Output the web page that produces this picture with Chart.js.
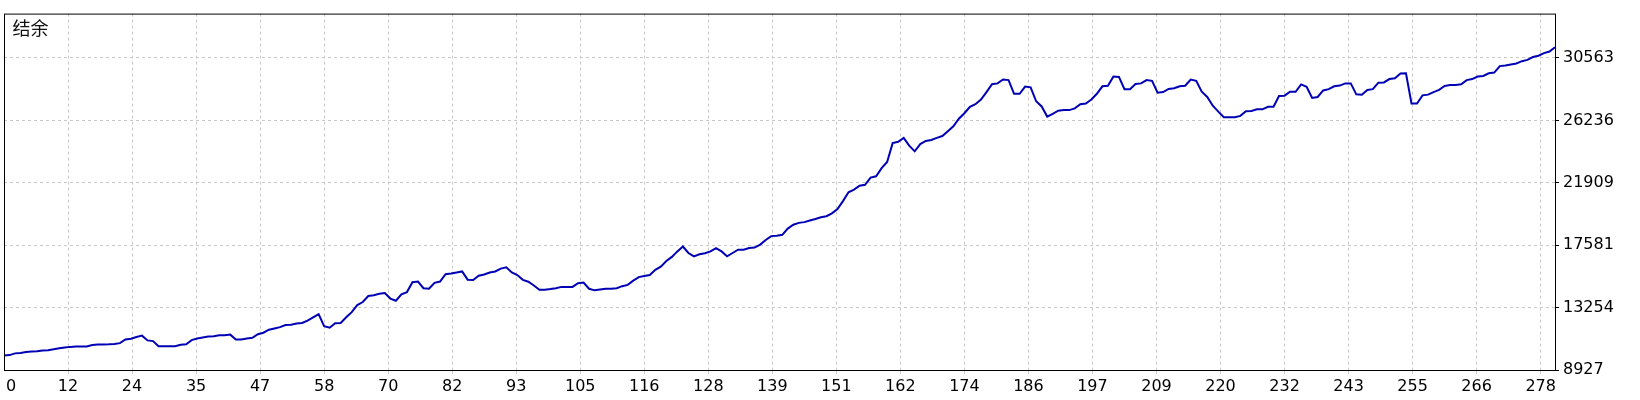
<!DOCTYPE html>
<html>
<head>
<meta charset="utf-8">
<script src="https://cdn.jsdelivr.net/npm/chart.js@4/dist/chart.umd.min.js"></script>
<style>
  html, body { margin: 0; padding: 0; background: #ffffff; }
  #wrap { width: 1640px; height: 400px; }
</style>
</head>
<body>
<div id="wrap"><canvas id="balanceChart" width="1640" height="400"></canvas></div>
<script>
// Title shown in the top-left corner of the plot
const chartTitle = '结余';

// Labels under the vertical grid lines
const xTickLabels = ['0', '12', '24', '35', '47', '58', '70', '82', '93', '105', '116', '128',
    '139', '151', '162', '174', '186', '197', '209', '220', '232', '243', '255', '266', '278'];

// Values shown on the right axis
const yTickValues = [8927, 13254, 17581, 21909, 26236, 30563];

// Balance after each deal
const balance = [
    9940, 9960, 10080, 10100, 10170, 10210, 10230, 10280, 10300, 10370,
    10430, 10480, 10530, 10550, 10550, 10560, 10660, 10700, 10700, 10710,
    10730, 10790, 11040, 11090, 11220, 11310, 10980, 10930, 10570, 10570,
    10570, 10570, 10680, 10710, 11000, 11110, 11180, 11250, 11270, 11340,
    11340, 11380, 11050, 11050, 11110, 11160, 11410, 11510, 11720, 11810,
    11900, 12040, 12060, 12150, 12190, 12350, 12580, 12800, 11970, 11860,
    12170, 12190, 12580, 12940, 13430, 13640, 14060, 14110, 14220, 14270,
    13880, 13730, 14180, 14330, 15010, 15060, 14600, 14560, 14970, 15060,
    15570, 15620, 15690, 15760, 15190, 15170, 15460, 15550, 15690, 15760,
    15960, 16050, 15690, 15510, 15180, 15050, 14790, 14490, 14490, 14540,
    14600, 14690, 14690, 14690, 14940, 14990, 14560, 14450, 14510, 14560,
    14560, 14600, 14740, 14830, 15120, 15370, 15440, 15510, 15870, 16090,
    16480, 16770, 17150, 17490, 17040, 16810, 16950, 17020, 17150, 17380,
    17150, 16810, 17040, 17270, 17270, 17380, 17420, 17620, 17940, 18210,
    18230, 18300, 18730, 19000, 19130, 19180, 19290, 19400, 19520, 19590,
    19790, 20080, 20640, 21250, 21430, 21700, 21770, 22270, 22360, 22920,
    23350, 24660, 24750, 25020, 24480, 24090, 24590, 24810, 24880, 25020,
    25150, 25490, 25830, 26350, 26730, 27180, 27360, 27680, 28200, 28740,
    28800, 29070, 29030, 28080, 28080, 28580, 28530, 27560, 27200, 26500,
    26690, 26910, 26950, 26950, 27070, 27360, 27410, 27680, 28080, 28600,
    28640, 29280, 29250, 28400, 28400, 28760, 28800, 29030, 28980, 28150,
    28200, 28420, 28460, 28600, 28640, 29070, 28980, 28220, 27860, 27250,
    26840, 26460, 26460, 26460, 26550, 26870, 26890, 27000, 27000, 27180,
    27180, 27930, 27950, 28220, 28220, 28730, 28560, 27790, 27860, 28310,
    28400, 28600, 28650, 28800, 28800, 28040, 28020, 28350, 28400, 28850,
    28870, 29100, 29160, 29480, 29500, 27410, 27410, 27970, 28020, 28200,
    28350, 28620, 28690, 28690, 28740, 29030, 29100, 29280, 29320, 29500,
    29550, 30000, 30040, 30110, 30180, 30340, 30430, 30630, 30720, 30900,
    31010, 31310
];

const axisFont = { family: '"DejaVu Sans", sans-serif', size: 16 };
const gridGrey = '#c8c8c8';
const xTickStep = 11.6;

// Black frame round the plot area
const framePlugin = {
    id: 'frame',
    afterDatasetsDraw(chart) {
        const a = chart.chartArea;
        const ctx = chart.ctx;
        ctx.save();
        ctx.strokeStyle = '#000000';
        ctx.lineWidth = 1;
        ctx.strokeRect(a.left + 0.5, a.top + 0.5, a.right - a.left, a.bottom - a.top);
        ctx.restore();
    }
};

// Series name written inside the plot, top left
const cornerTitlePlugin = {
    id: 'cornerTitle',
    afterDraw(chart) {
        const a = chart.chartArea;
        const ctx = chart.ctx;
        ctx.save();
        ctx.font = '18px "Noto Sans CJK SC"';
        ctx.fillStyle = '#111111';
        ctx.textBaseline = 'top';
        ctx.textAlign = 'left';
        ctx.fillText(chartTitle, a.left + 8.5, a.top + 6);
        ctx.restore();
    }
};

const ctx = document.getElementById('balanceChart').getContext('2d');
new Chart(ctx, {
    type: 'line',
    data: {
        datasets: [{
            label: chartTitle,
            data: balance.map((v, i) => ({ x: i, y: v })),
            borderColor: '#0000b4',
            borderWidth: 2,
            pointRadius: 0,
            tension: 0,
            fill: false
        }]
    },
    options: {
        responsive: false,
        devicePixelRatio: 1,
        animation: false,
        layout: { padding: { left: 4, top: 4, right: 0, bottom: 0 } },
        plugins: {
            legend: { display: false },
            tooltip: { enabled: false }
        },
        scales: {
            x: {
                type: 'linear',
                min: 0,
                max: balance.length - 1,
                afterBuildTicks: scale => {
                    // first label sits a little right of the left frame
                    scale.ticks = xTickLabels.map((l, k) => ({ value: k === 0 ? 1.3 : k * xTickStep }));
                },
                afterFit: scale => { scale.height = 30; },
                grid: {
                    color: c => c.index === 0 ? 'rgba(0,0,0,0)' : gridGrey,
                    tickColor: c => c.index === 0 ? 'rgba(0,0,0,0)' : gridGrey,
                    tickLength: 4,
                    lineWidth: 1
                },
                border: { display: false, dash: [3, 3] },
                ticks: {
                    autoSkip: false,
                    maxRotation: 0,
                    minRotation: 0,
                    padding: 3,
                    color: '#000000',
                    font: axisFont,
                    callback: (v, idx) => xTickLabels[idx]
                }
            },
            y: {
                type: 'linear',
                position: 'right',
                min: 8927,
                max: 33640,
                afterBuildTicks: scale => {
                    scale.ticks = yTickValues.map(v => ({ value: v }));
                },
                afterFit: scale => { scale.width = 85; },
                grid: {
                    color: gridGrey,
                    tickColor: '#000000',
                    tickLength: 4,
                    lineWidth: 1
                },
                border: { display: false, dash: [3, 3] },
                ticks: {
                    padding: 4,
                    color: '#000000',
                    font: axisFont,
                    callback: v => String(v)
                }
            }
        }
    },
    plugins: [framePlugin, cornerTitlePlugin]
});
</script>
</body>
</html>
